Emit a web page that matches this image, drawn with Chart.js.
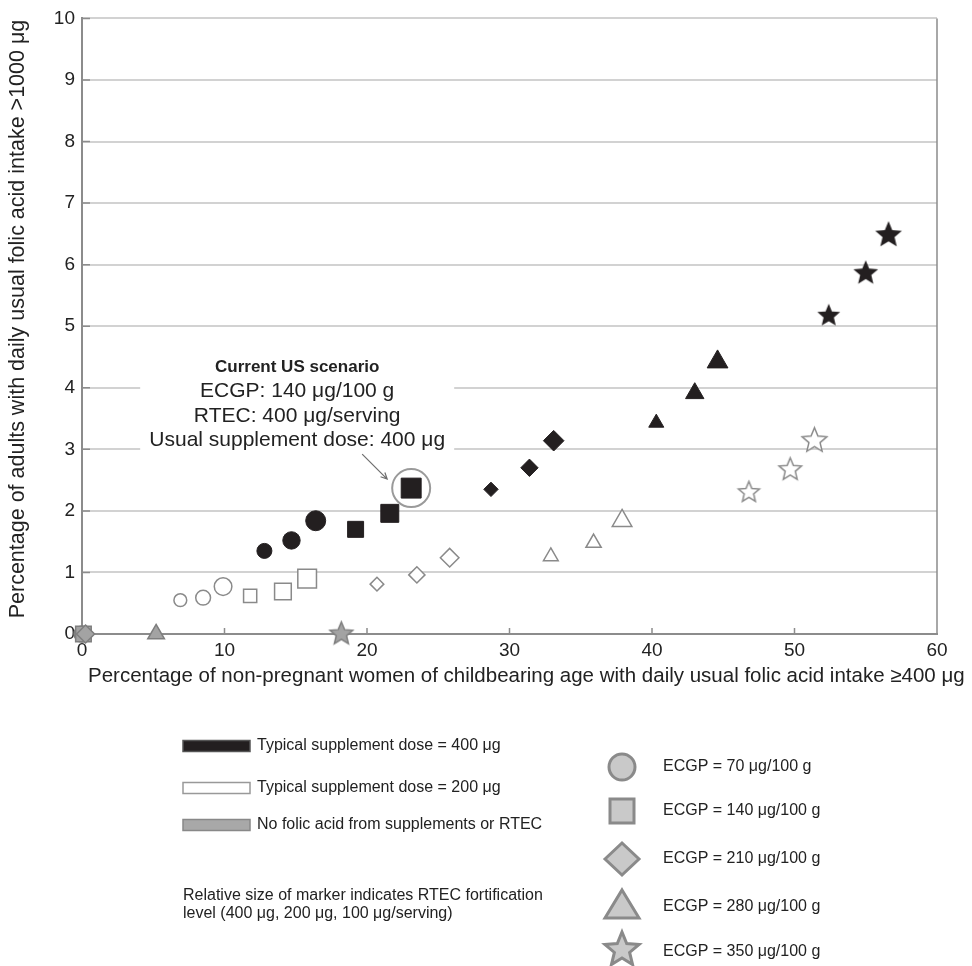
<!DOCTYPE html>
<html>
<head>
<meta charset="utf-8">
<script src="https://cdn.jsdelivr.net/npm/chart.js@4.4.1/dist/chart.umd.min.js"></script>
<style>
  html, body { margin: 0; padding: 0; background: #fff; }
  #wrap { width: 972px; height: 966px; }
</style>
</head>
<body>
<div id="wrap"><canvas id="chart" width="972" height="966"></canvas></div>
<script>
// ── DATA ───────────────────────────────────────────
// each group has 3 points: RTEC 100, 200, 400 µg/serving (marker grows)
const rtecLevels = ['100 μg/serving', '200 μg/serving', '400 μg/serving'];

// typical supplement dose = 400 µg (black markers)
const s400Circle   = [[12.8, 1.35], [14.7, 1.52], [16.4, 1.84]];
const s400Square   = [[19.2, 1.70], [21.6, 1.96], [23.1, 2.37]];
const s400Diamond  = [[28.7, 2.35], [31.4, 2.70], [33.1, 3.14]];
const s400Triangle = [[40.3, 3.43], [43.0, 3.91], [44.6, 4.42]];
const s400Star     = [[52.4, 5.17], [55.0, 5.86], [56.6, 6.48]];

// typical supplement dose = 200 µg (white markers)
const s200Circle   = [[6.9, 0.55], [8.5, 0.59], [9.9, 0.77]];
const s200Square   = [[11.8, 0.62], [14.1, 0.69], [15.8, 0.90]];
const s200Diamond  = [[20.7, 0.81], [23.5, 0.96], [25.8, 1.24]];
const s200Triangle = [[32.9, 1.26], [35.9, 1.48], [37.9, 1.84]];
const s200Star     = [[46.8, 2.30], [49.7, 2.67], [51.4, 3.14]];

// no folic acid from supplements or RTEC (grey), one per ECGP level
const noneX = [0, 0.1, 0.25, 5.2, 18.2];
const noneY = [0, 0, 0, 0, 0];

const ecgpLabels = ['ECGP = 70 μg/100 g', 'ECGP = 140 μg/100 g', 'ECGP = 210 μg/100 g',
                    'ECGP = 280 μg/100 g', 'ECGP = 350 μg/100 g'];
const groupLabels = ['Typical supplement dose = 400 μg', 'Typical supplement dose = 200 μg',
                     'No folic acid from supplements or RTEC'];
const noteLines = ['Relative size of marker indicates RTEC fortification',
                   'level (400 μg, 200 μg, 100 μg/serving)'];
const scenarioLines = ['Current US scenario', 'ECGP: 140 μg/100 g', 'RTEC: 400 μg/serving',
                       'Usual supplement dose: 400 μg'];
const xTicks = [0, 10, 20, 30, 40, 50, 60];
const yTicks = [0, 1, 2, 3, 4, 5, 6, 7, 8, 9, 10];
const xTitle = 'Percentage of non-pregnant women of childbearing age with daily usual folic acid intake ≥400 μg';
const yTitle = 'Percentage of adults with daily usual folic acid intake >1000 μg';

// ── STYLE ──────────────────────────────────────────
const FONT  = '"Liberation Sans", Arial, sans-serif';
const BLACK = '#231f20';
const GREY_LINE = '#8a8a8a';

function starPath(ctx, cx, cy, R, r) {
  ctx.beginPath();
  for (let i = 0; i < 10; i++) {
    const a = -Math.PI / 2 + i * Math.PI / 5;
    const rr = i % 2 ? r : R;
    ctx.lineTo(cx + Math.cos(a) * rr, cy + Math.sin(a) * rr);
  }
  ctx.closePath();
}

function makeStar(R, fill, stroke, lw) {
  const c = document.createElement('canvas');
  const s = Math.ceil(2 * (R + lw) + 2);
  c.width = s; c.height = s;
  const ctx = c.getContext('2d');
  starPath(ctx, s / 2, s / 2, R, R * 0.45);
  ctx.fillStyle = fill; ctx.fill();
  if (lw) { ctx.strokeStyle = stroke; ctx.lineWidth = lw; ctx.lineJoin = 'miter'; ctx.stroke(); }
  return c;
}

const pts = arr => arr.map(([x, y]) => ({ x, y }));

function series(label, data, style, radius, fill, stroke, bw) {
  return {
    label, data, pointStyle: style, pointRadius: radius, pointHoverRadius: radius,
    backgroundColor: fill, borderColor: stroke, borderWidth: bw,
    showLine: false, clip: false
  };
}

const blackStars = [12, 13, 14].map(R => makeStar(R, BLACK, BLACK, 0));
const whiteStars = [11, 11.8, 13].map(R => makeStar(R, '#fff', GREY_LINE, 1.5));
const greyStar   = makeStar(12, '#a3a3a3', '#7e7e7e', 1.5);

const datasets = [
  series('400 circle',   pts(s400Circle),   'circle',   [7.5, 8.7, 10],    BLACK, BLACK, 1),
  series('400 square',   pts(s400Square),   'rect',     [11.3, 12.7, 14.1], BLACK, BLACK, 1),
  series('400 diamond',  pts(s400Diamond),  'rectRot',  [7.2, 8.7, 10.3],  BLACK, BLACK, 1),
  series('400 triangle', pts(s400Triangle), 'triangle', [8.7, 10.6, 12],   BLACK, BLACK, 1),
  series('400 star',     pts(s400Star),     blackStars, [12, 13, 14],      BLACK, BLACK, 0),
  series('200 circle',   pts(s200Circle),   'circle',   [6.4, 7.4, 8.8],   '#fff', GREY_LINE, 1.5),
  series('200 square',   pts(s200Square),   'rect',     [9.3, 11.8, 13.2], '#fff', GREY_LINE, 1.5),
  series('200 diamond',  pts(s200Diamond),  'rectRot',  [6.8, 8.1, 9.3],   '#fff', GREY_LINE, 1.5),
  series('200 triangle', pts(s200Triangle), 'triangle', [8.5, 8.8, 11.3],  '#fff', GREY_LINE, 1.5),
  series('200 star',     pts(s200Star),     whiteStars, [11, 12, 13],      '#fff', GREY_LINE, 0),
  series('none', noneX.map((x, i) => ({ x, y: noneY[i] })),
         ['circle', 'rect', 'rectRot', 'triangle', greyStar],
         [8, 11, 9, 9.6, 12], '#a3a3a3', '#7e7e7e', 1.5)
];

// ── PLUGINS ────────────────────────────────────────
function scenarioGeom(chart) {
  const { x, y } = chart.scales;
  const cx = x.getPixelForValue(15.1);
  const top = y.getPixelForValue(4.34);
  const [hx, hy] = s400Square[2];
  return { cx, top, hx: x.getPixelForValue(hx), hy: y.getPixelForValue(hy) };
}

const framePlugin = {
  id: 'frame',
  beforeDatasetsDraw(chart) {
    const { ctx, chartArea: a, scales: { x, y } } = chart;
    ctx.save();
    // right border + inner ticks
    ctx.strokeStyle = '#8c8c8c';
    ctx.lineWidth = 1.5;
    ctx.beginPath();
    ctx.moveTo(a.right, a.top); ctx.lineTo(a.right, a.bottom);
    xTicks.forEach(v => {
      const px = x.getPixelForValue(v);
      ctx.moveTo(px, a.bottom); ctx.lineTo(px, a.bottom - 6);
    });
    yTicks.forEach(v => {
      const py = y.getPixelForValue(v);
      ctx.moveTo(a.left, py); ctx.lineTo(a.left + 8, py);
    });
    ctx.stroke();
    // white backdrop behind the scenario note
    const g = scenarioGeom(chart);
    ctx.fillStyle = '#fff';
    ctx.fillRect(g.cx - 157, g.top - 21, 314, 110);
    ctx.restore();
  },
  afterDatasetsDraw(chart) {
    const { ctx } = chart;
    const g = scenarioGeom(chart);
    ctx.save();
    ctx.fillStyle = '#222';
    ctx.textAlign = 'center';
    ctx.textBaseline = 'middle';
    scenarioLines.forEach((t, i) => {
      ctx.font = (i === 0 ? 'bold 17px ' : '21px ') + FONT;
      ctx.fillText(t, g.cx, g.top + i * 24.5);
    });
    // highlight ring + arrow
    ctx.strokeStyle = '#9a9a9a';
    ctx.lineWidth = 2;
    ctx.beginPath();
    ctx.arc(g.hx, g.hy, 19, 0, Math.PI * 2);
    ctx.stroke();
    const x0 = g.hx - 49, y0 = g.hy - 34, x1 = g.hx - 24, y1 = g.hy - 9;
    const ang = Math.atan2(y1 - y0, x1 - x0);
    ctx.strokeStyle = '#6e6e6e';
    ctx.lineWidth = 1.2;
    ctx.beginPath();
    ctx.moveTo(x0, y0); ctx.lineTo(x1, y1);
    ctx.moveTo(x1 - 7 * Math.cos(ang - 0.45), y1 - 7 * Math.sin(ang - 0.45));
    ctx.lineTo(x1, y1);
    ctx.lineTo(x1 - 7 * Math.cos(ang + 0.45), y1 - 7 * Math.sin(ang + 0.45));
    ctx.stroke();
    ctx.restore();
  },
  afterDraw(chart) {
    const { ctx } = chart;
    ctx.save();
    ctx.fillStyle = '#222';
    ctx.textBaseline = 'middle';
    // axis titles
    ctx.font = '20.5px ' + FONT;
    ctx.textAlign = 'left';
    ctx.fillText(xTitle, 88, 676);
    ctx.save();
    ctx.translate(18, 319);
    ctx.rotate(-Math.PI / 2);
    ctx.textAlign = 'center';
    ctx.font = '21.5px ' + FONT;
    ctx.fillText(yTitle, 0, 0);
    ctx.restore();

    // left legend: supplement groups
    const swFill = [BLACK, '#fff', '#a8a8a8'];
    const swLine = ['#555', '#999', '#888'];
    const rowsL = [746, 788, 825];
    ctx.font = '16px ' + FONT;
    ctx.textAlign = 'left';
    groupLabels.forEach((t, i) => {
      ctx.fillStyle = swFill[i];
      ctx.fillRect(183, rowsL[i] - 5.5, 67, 11);
      ctx.strokeStyle = swLine[i];
      ctx.lineWidth = 1.5;
      ctx.strokeRect(183, rowsL[i] - 5.5, 67, 11);
      ctx.fillStyle = '#222';
      ctx.fillText(t, 257, rowsL[i]);
    });
    noteLines.forEach((t, i) => ctx.fillText(t, 183, 896 + i * 18));

    // right legend: ECGP shapes
    const rowsR = [767, 811, 859, 907, 949];
    const mx = 622;
    ctx.fillStyle = '#c9c9c9';
    ctx.strokeStyle = '#8a8a8a';
    ctx.lineWidth = 3;
    ctx.lineJoin = 'miter';
    rowsR.forEach((yy, i) => {
      ctx.beginPath();
      if (i === 0) ctx.arc(mx, yy, 13, 0, Math.PI * 2);
      if (i === 1) ctx.rect(mx - 12, yy - 12, 24, 24);
      if (i === 2) { ctx.moveTo(mx - 17, yy); ctx.lineTo(mx, yy - 16); ctx.lineTo(mx + 17, yy); ctx.lineTo(mx, yy + 16); ctx.closePath(); }
      if (i === 3) { ctx.moveTo(mx, yy - 17); ctx.lineTo(mx + 17, yy + 11); ctx.lineTo(mx - 17, yy + 11); ctx.closePath(); }
      if (i === 4) starPath(ctx, mx, yy + 1, 18, 8);
      ctx.fill();
      ctx.stroke();
    });
    ctx.fillStyle = '#222';
    ecgpLabels.forEach((t, i) => ctx.fillText(t, 663, rowsR[i] + (i === 4 ? 3 : 0)));
    ctx.restore();
  }
};

// ── CHART ──────────────────────────────────────────
new Chart(document.getElementById('chart'), {
  type: 'scatter',
  data: { datasets },
  options: {
    responsive: false,
    animation: false,
    layout: { padding: { left: 0, top: 17, right: 35, bottom: 292 } },
    plugins: { legend: { display: false }, tooltip: { enabled: false } },
    scales: {
      x: {
        type: 'linear', min: 0, max: 60,
        afterBuildTicks: s => { s.ticks = xTicks.map(v => ({ value: v })); },
        afterFit: s => { s.height = 40; },
        grid: { display: false, drawTicks: false },
        border: { display: true, color: '#8c8c8c', width: 2 },
        ticks: { padding: 5, color: '#222', font: { size: 19, family: FONT } }
      },
      y: {
        type: 'linear', min: 0, max: 10,
        afterBuildTicks: s => { s.ticks = yTicks.map(v => ({ value: v })); },
        afterFit: s => { s.width = 82; },
        grid: { color: '#d2d2d2', lineWidth: 2, drawTicks: false },
        border: { color: '#8c8c8c', width: 2 },
        ticks: { padding: 7, color: '#222', font: { size: 19, family: FONT } }
      }
    }
  },
  plugins: [framePlugin]
});
</script>
</body>
</html>
